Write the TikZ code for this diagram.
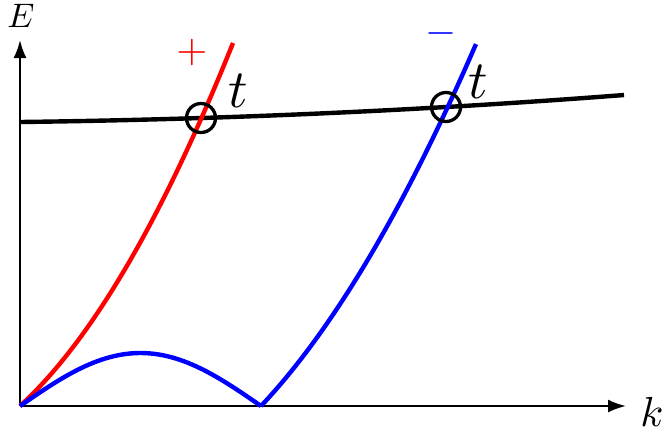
\documentclass[tikz,border=0pt]{standalone}
\usetikzlibrary{arrows.meta}
\begin{document}
\begin{tikzpicture}[x=0.5pt,y=-0.5pt,
  axis/.style={line width=1.1pt,-{Latex[length=9pt,width=6.5pt]}},
  curve/.style={line width=2.2pt},
  crossmark/.style={circle,draw,line width=1.65pt,minimum size=14.5pt,inner sep=0pt},
  tlabel/.style={scale=2.7,inner sep=0pt},
  signlabel/.style={scale=2,inner sep=0pt}]
\useasboundingbox (0,0) rectangle (664,441);
\coordinate (O) at (20,406);
\coordinate (Ytip) at (20,40);
\coordinate (Xtip) at (626,406);
\draw[axis] (O) -- (Ytip);
\draw[axis] (O) -- (Xtip);
\node[scale=1.7,inner sep=0pt] (E) at (21,16) {$E$};
\node[scale=2.1,inner sep=0pt] (k) at (652,412) {$k$};
% black curve
\draw[curve,black] plot[domain=0:604,samples=60] ({20+\x},{122-(0.534*(\x/100)*(\x/100)+0.01243*\x)});
% red curve
\draw[curve,red] plot[domain=0:213,samples=60] ({20+\x},{406-(37.1*(\x/100)*(\x/100)+0.914*\x)});
% blue arch
\draw[curve,blue] plot[domain=0:241,samples=60] ({20+\x},{406-53*sin(180*(\x/241))});
% blue curve
\draw[curve,blue] plot[domain=0:215,samples=60] ({261+\x},{406-(29*(\x/100)*(\x/100)+1.06*\x)});
\node[crossmark] (c1) at (201,118) {};
\node[crossmark] (c2) at (446,107) {};
\node[tlabel] (t1) at (238,91) {$t$};
\node[tlabel] (t2) at (478,82) {$t$};
\node[signlabel,red] (plus) at (192,52) {$+$};
\node[signlabel,blue] (minus) at (441,33) {$-$};
\end{tikzpicture}
\end{document}
